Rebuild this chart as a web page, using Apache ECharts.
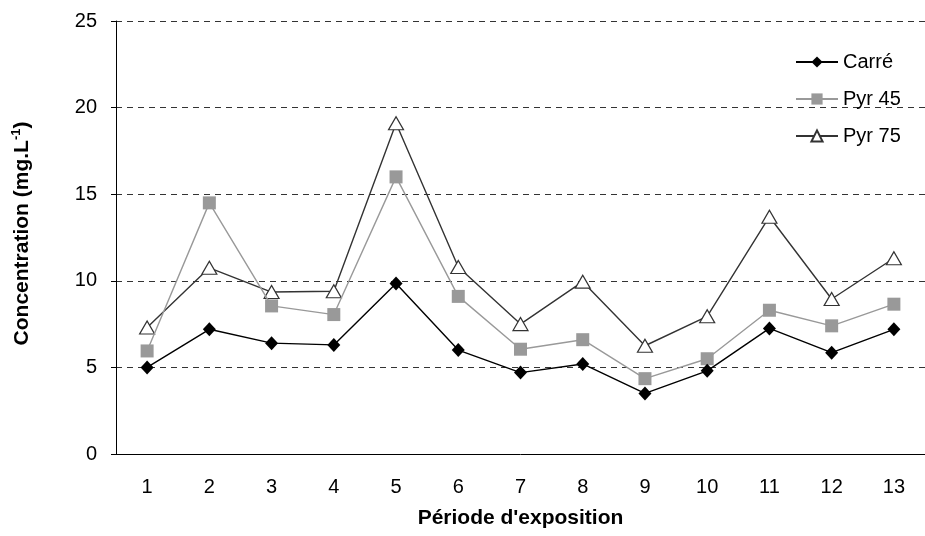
<!DOCTYPE html>
<html>
<head>
<meta charset="utf-8">
<script src="https://cdn.jsdelivr.net/npm/echarts@6/dist/echarts.min.js"></script>
<style>
  html, body { margin: 0; padding: 0; background: #fff; }
  #chart { width: 925px; height: 536px; }
</style>
</head>
<body>
<div id="chart"></div>
<script>
// periodes d'exposition
var periodes = ['1', '2', '3', '4', '5', '6', '7', '8', '9', '10', '11', '12', '13'];
var carre = [5.0, 7.2, 6.4, 6.3, 9.85, 6.0, 4.7, 5.2, 3.5, 4.8, 7.25, 5.85, 7.2];
var pyr45 = [5.95, 14.5, 8.55, 8.05, 16.0, 9.1, 6.05, 6.6, 4.35, 5.5, 8.3, 7.4, 8.65];
var pyr75 = [7.3, 10.75, 9.35, 9.4, 19.1, 10.8, 7.5, 9.95, 6.25, 7.95, 13.7, 8.95, 11.3];
var yTicks = [0, 5, 10, 15, 20, 25];

var font = 'Liberation Sans, Arial, sans-serif';
var myChart = echarts.init(document.getElementById('chart'));

var option = {
  animation: false,
  grid: { left: 116, right: -5, top: 21, bottom: 82 },
  legend: {
    orient: 'vertical',
    left: 790,
    top: 47,
    itemWidth: 42,
    itemHeight: 14,
    itemGap: 17,
    textStyle: { fontFamily: font, fontSize: 20, lineHeight: 20, color: '#000' },
    data: ['Carré', 'Pyr 45', 'Pyr 75']
  },
  xAxis: {
    type: 'category',
    data: periodes,
    name: "Période d'exposition",
    nameLocation: 'middle',
    nameGap: 54,
    nameTextStyle: { fontFamily: font, fontSize: 21, fontWeight: 'bold', color: '#000' },
    axisLine: { lineStyle: { color: '#000', width: 1 } },
    axisTick: { length: 5, lineStyle: { color: '#000' } },
    axisLabel: { fontFamily: font, fontSize: 20, color: '#000', margin: 23 }
  },
  yAxis: {
    type: 'value',
    min: yTicks[0],
    max: yTicks[yTicks.length - 1],
    interval: 5,
    name: 'Concentration (mg.L{sup|-1})',
    nameLocation: 'middle',
    nameGap: 81,
    nameTextStyle: {
      fontFamily: font, fontSize: 21, fontWeight: 'bold', color: '#000',
      padding: [0, 0, 0, 8],
      rich: {
        sup: { fontFamily: font, fontSize: 13, fontWeight: 'bold', color: '#000', padding: [0, 0, 12, 0] }
      }
    },
    axisLine: { show: true, lineStyle: { color: '#000', width: 1 } },
    axisTick: { show: true, length: 5, lineStyle: { color: '#000' } },
    axisLabel: { fontFamily: font, fontSize: 20, color: '#000', margin: 19 },
    splitLine: { lineStyle: { color: '#333', type: [6, 5], width: 1 } }
  },
  series: [
    {
      name: 'Carré',
      type: 'line',
      data: carre,
      symbol: 'diamond',
      symbolSize: [13, 14],
      itemStyle: { color: '#000', borderWidth: 0 },
      lineStyle: { color: '#000', width: 1.4 },
      z: 4
    },
    {
      name: 'Pyr 45',
      type: 'line',
      data: pyr45,
      symbol: 'rect',
      symbolSize: 13,
      itemStyle: { color: '#999', borderWidth: 0 },
      lineStyle: { color: '#999', width: 1.4 },
      z: 3
    },
    {
      name: 'Pyr 75',
      type: 'line',
      data: pyr75,
      symbol: 'triangle',
      symbolSize: [15, 13],
      itemStyle: { color: '#fff', borderColor: '#333', borderWidth: 1.2 },
      lineStyle: { color: '#333', width: 1.4 },
      z: 2
    }
  ]
};

option && myChart.setOption(option);
</script>
</body>
</html>
